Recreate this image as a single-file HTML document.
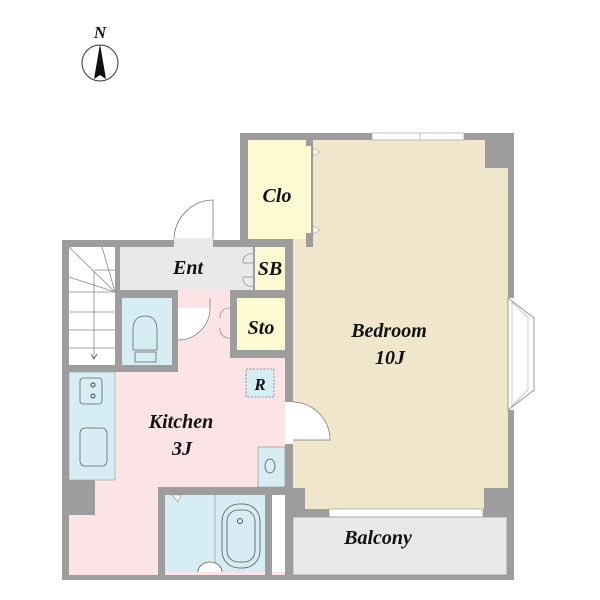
<!DOCTYPE html>
<html><head><meta charset="utf-8"><style>
html,body{margin:0;padding:0;background:#fff}
svg{display:block}
text{font-family:"Liberation Serif",serif;font-style:italic;font-weight:bold;fill:#111}
</style></head><body>
<svg width="600" height="600" viewBox="0 0 600 600" xmlns="http://www.w3.org/2000/svg">
<text x="100" y="38" font-size="17" text-anchor="middle">N</text>
<circle cx="100" cy="63" r="18" fill="#fff" stroke="#333" stroke-width="1"/>
<polygon points="100,44 94,79 100,75 106,79" fill="#111"/>

<path d="M240,133 H514 V298 H508 V410 H514 V580 H62 V240 H240 Z" fill="#9d9d9d"/>

<path d="M293,140 H485 V168 H508 V488 H484 V509 H305 V488 H293 Z" fill="#f0e6cc"/>
<rect x="372" y="133" width="92" height="7" fill="#fff" stroke="#999" stroke-width="0.6"/>
<line x1="420" y1="133" x2="420" y2="140" stroke="#999" stroke-width="0.6"/>
<rect x="329" y="509" width="154" height="8" fill="#fff" stroke="#999" stroke-width="0.6"/>
<polygon points="508,298 534,318 534,390 508,410" fill="#fff" stroke="#999" stroke-width="1"/>
<polygon points="512,302 528,318 528,390 512,406" fill="none" stroke="#aaa" stroke-width="0.6"/>
<rect x="293" y="517" width="214" height="58" fill="#e8e8e8" stroke="#999" stroke-width="0.8"/>

<rect x="248" y="140" width="63" height="99" fill="#fdfad2"/>
<rect x="311" y="140" width="2" height="99" fill="#9d9d9d"/>
<rect x="306" y="140" width="7" height="6" fill="#9d9d9d"/>
<rect x="306" y="233" width="7" height="14" fill="#9d9d9d"/>
<polygon points="313,148 320,152 313,156" fill="#fff" stroke="#999" stroke-width="0.6"/>
<polygon points="313,226 320,230 313,234" fill="#fff" stroke="#999" stroke-width="0.6"/>
<rect x="120" y="247" width="133" height="43" fill="#e9e9e9"/>
<path d="M174,240 A40,40 0 0 1 213,200 V240" fill="#fff" stroke="#777" stroke-width="0.8"/>
<rect x="174" y="238" width="39" height="9" fill="#e9e9e9"/>
<rect x="255" y="247" width="30" height="43" fill="#fdfad2"/>
<path d="M253,254 a8,8 0 0 0 -10,9 M253,286 a8,8 0 0 1 -10,-9 M243,263 h10 M243,277 h10" fill="none" stroke="#888" stroke-width="0.7"/>
<path d="M69,290 H285 V575 H69 Z" fill="#fbe3e6"/>
<rect x="69" y="247" width="46" height="118" fill="#fff"/>
<g stroke="#888" stroke-width="0.8">
<line x1="69" y1="247" x2="115" y2="292"/><line x1="102" y1="247" x2="115" y2="292"/>
<line x1="69" y1="277" x2="115" y2="292"/><line x1="69" y1="292" x2="115" y2="292"/>
<line x1="69" y1="312" x2="115" y2="312"/><line x1="69" y1="330" x2="115" y2="330"/>
<line x1="69" y1="348" x2="115" y2="348"/><line x1="95" y1="270" x2="115" y2="270"/>
<line x1="94" y1="270" x2="94" y2="358"/>
</g>
<path d="M91,354 L94,359 L97,354" fill="none" stroke="#555" stroke-width="0.8"/>
<rect x="115" y="290" width="7" height="82" fill="#9d9d9d"/>
<rect x="69" y="365" width="103" height="7" fill="#9d9d9d"/>
<rect x="115" y="290" width="63" height="8" fill="#9d9d9d"/>
<rect x="122" y="298" width="50" height="67" fill="#d6edf3"/>
<rect x="172" y="298" width="6" height="74" fill="#9d9d9d"/>
<path d="M133,350 V330 Q133,316 145,316 Q157,316 157,330 V350 Z" fill="none" stroke="#666" stroke-width="0.8"/>
<rect x="135" y="352" width="21" height="10" fill="none" stroke="#666" stroke-width="0.8"/>
<path d="M178,340 A32,32 0 0 0 210,308 H178 Z" fill="#fff" stroke="none"/>
<path d="M178,340 A32,32 0 0 0 210,308 V298" fill="none" stroke="#777" stroke-width="0.7"/>
<rect x="230" y="290" width="63" height="8" fill="#9d9d9d"/>
<rect x="230" y="290" width="7" height="68" fill="#9d9d9d"/>
<rect x="237" y="298" width="48" height="52" fill="#fdfad2"/>
<rect x="230" y="350" width="63" height="8" fill="#9d9d9d"/>
<path d="M230,308 a9,9 0 0 0 -10,10 M230,338 a9,9 0 0 1 -10,-10" fill="none" stroke="#888" stroke-width="0.7"/>
<rect x="246" y="369" width="28" height="28" fill="#d6edf3" stroke="#777" stroke-width="0.8" stroke-dasharray="2,1.5"/>
<text x="260" y="390" font-size="17" text-anchor="middle">R</text>
<rect x="69" y="372" width="46" height="108" fill="#d6edf3" stroke="#999" stroke-width="0.6"/>
<rect x="80" y="378" width="22" height="26" rx="3" fill="none" stroke="#666" stroke-width="0.8"/>
<circle cx="93" cy="385" r="2" fill="none" stroke="#444"/><circle cx="93" cy="396" r="2" fill="none" stroke="#444"/>
<rect x="80" y="428" width="27" height="38" rx="5" fill="none" stroke="#666" stroke-width="0.8"/>
<rect x="69" y="480" width="26" height="35" fill="#9d9d9d"/>
<rect x="258" y="447" width="27" height="40" fill="#d6edf3" stroke="#888" stroke-width="0.6"/>
<ellipse cx="270" cy="466" rx="5" ry="7" fill="none" stroke="#555" stroke-width="0.8"/>
<rect x="285" y="402" width="8" height="42" fill="#fff"/>
<path d="M293,402 A38,38 0 0 1 330,440 H293" fill="#fff" stroke="#777" stroke-width="0.7"/>
<rect x="158" y="487" width="135" height="8" fill="#9d9d9d"/>
<rect x="158" y="487" width="7" height="88" fill="#9d9d9d"/>
<rect x="165" y="495" width="100" height="77" fill="#d6edf3"/>
<line x1="215" y1="495" x2="215" y2="572" stroke="#888" stroke-width="0.6"/>
<rect x="222" y="504" width="38" height="64" rx="17" fill="none" stroke="#555" stroke-width="0.8"/>
<rect x="227" y="510" width="28" height="52" rx="11" fill="none" stroke="#555" stroke-width="0.8"/>
<circle cx="240" cy="521" r="2.5" fill="none" stroke="#555"/>
<path d="M198,572 a12,10 0 0 1 24,0" fill="#fff" stroke="#555" stroke-width="0.8"/>
<rect x="265" y="495" width="7" height="80" fill="#9d9d9d"/>
<rect x="272" y="495" width="15" height="77" fill="#fff"/>
<polygon points="172,495 178,502 181,495" fill="#fff" stroke="#888" stroke-width="0.6"/>
<rect x="285" y="290" width="8" height="112" fill="#9d9d9d"/>
<rect x="285" y="444" width="8" height="136" fill="#9d9d9d"/>
<rect x="287" y="511" width="6" height="69" fill="#9d9d9d"/>

<text x="277" y="202" font-size="20" text-anchor="middle">Clo</text>
<text x="188" y="274" font-size="20" text-anchor="middle">Ent</text>
<text x="270" y="275" font-size="20" text-anchor="middle">SB</text>
<text x="261" y="334" font-size="20" text-anchor="middle">Sto</text>
<text x="181" y="428" font-size="20" text-anchor="middle">Kitchen</text>
<text x="182" y="455" font-size="20" text-anchor="middle">3J</text>
<text x="389" y="337" font-size="20" text-anchor="middle">Bedroom</text>
<text x="390" y="364" font-size="20" text-anchor="middle">10J</text>
<text x="378" y="544" font-size="20" text-anchor="middle">Balcony</text>
</svg>
</body></html>
